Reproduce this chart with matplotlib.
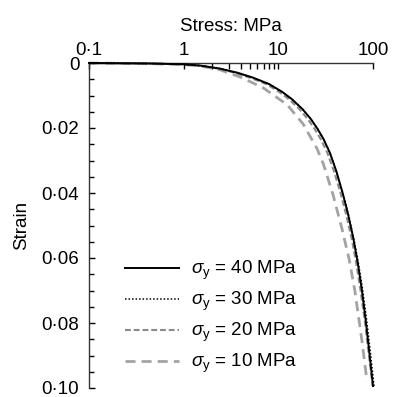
import matplotlib
matplotlib.use("Agg")
import matplotlib.pyplot as plt
from matplotlib.ticker import FixedLocator, NullFormatter

plt.rcParams['font.family'] = ['Liberation Sans', 'DejaVu Sans']
plt.rcParams['mathtext.fontset'] = 'custom'
plt.rcParams['mathtext.rm'] = 'Liberation Sans'
plt.rcParams['mathtext.it'] = 'Liberation Sans:italic'

# --- data (stress in MPa, strain) ---
strain_40 = [0, 0.00015, 0.0004, 0.0008, 0.0017, 0.0030, 0.0045, 0.0065, 0.0089,
             0.0112, 0.0142, 0.0172, 0.0203, 0.0234, 0.0276, 0.0333, 0.0402, 0.0470,
             0.0540, 0.0615, 0.0695, 0.0795, 0.0898, 0.0994]
stress_40 = [0.1, 0.44, 1.0, 1.5, 2.4, 3.7, 5.4, 8.0, 11, 14, 18, 22, 26, 30, 35,
             41, 48, 55, 62, 69, 76, 84, 92, 100]

strain_30 = strain_40
stress_30 = [0.1, 0.44, 1.0, 1.5, 2.4, 3.7, 5.4, 8.0, 11, 14, 18, 22, 26, 30, 35,
             41, 48.2, 55.4, 62.6, 70, 77.5, 86, 94.5, 102.5]

strain_20 = strain_40
stress_20 = [0.1, 0.44, 0.97, 1.45, 2.3, 3.45, 5.0, 7.5, 10.2, 13.0, 16.7, 20.4,
             24.2, 28.0, 32.9, 38.7, 45.6, 52.4, 59.5, 66.5, 73.5, 82, 90.5, 99]

strain_10 = [0, 0.0002, 0.0005, 0.0009, 0.0021, 0.0043, 0.0076, 0.0128, 0.0187,
             0.0263, 0.0312, 0.0405, 0.0511, 0.0602, 0.0703, 0.0856, 0.0979]
stress_10 = [0.1, 0.44, 0.98, 1.49, 2.42, 3.94, 6.89, 12.35, 18.2, 25.6, 30.0,
             37.8, 47.1, 55.8, 64.5, 76.5, 86.4]

labels = [r'$\sigma_{\rm y}$ = 40 MPa', r'$\sigma_{\rm y}$ = 30 MPa',
          r'$\sigma_{\rm y}$ = 20 MPa', r'$\sigma_{\rm y}$ = 10 MPa']

x_major = [0.1, 1, 10, 100]
x_major_labels = ['0·1', '1', '10', '100']
x_minor = [2, 3, 4, 5, 6, 7, 8, 9]
y_major = [0, 0.02, 0.04, 0.06, 0.08, 0.10]
y_major_labels = ['0', '0·02', '0·04', '0·06', '0·08', '0·10']

fig = plt.figure(figsize=(3.95, 3.97), dpi=100)
ax = fig.add_axes([89/395, 1-388/397, (373-89)/395, (388-63)/397])

fs = 13.5
ax.plot(stress_40, strain_40, color='black', lw=1.4, label=labels[0], clip_on=False, zorder=4)
ax.plot(stress_30, strain_30, color='black', lw=1.1, linestyle=(0, (1, 1.3)), label=labels[1], clip_on=False, zorder=3)
ax.plot(stress_20, strain_20, color='#8a8a8a', lw=1.5, linestyle=(0, (2.8, 1.4)), label=labels[2], clip_on=False, zorder=2)
ax.plot(stress_10, strain_10, color='#a3a3a3', lw=2.0, linestyle=(0, (3.6, 2.2)), label=labels[3], clip_on=False, zorder=1)

ax.set_xscale('log')
ax.set_xlim(0.1, 100)
ax.set_ylim(0.10, 0)

ax.xaxis.set_ticks_position('top')
ax.xaxis.set_label_position('top')
ax.set_xticks(x_major)
ax.set_xticklabels(x_major_labels, fontsize=fs)
ax.xaxis.set_minor_locator(FixedLocator(x_minor))
ax.xaxis.set_minor_formatter(NullFormatter())
ax.set_yticks(y_major)
ax.set_yticklabels(y_major_labels, fontsize=fs)
ax.yaxis.set_minor_locator(FixedLocator([i * 0.005 for i in range(21)]))

ax.tick_params(axis='x', which='major', direction='in', length=4, width=1, pad=3)
ax.tick_params(axis='x', which='minor', direction='in', length=4, width=1)
ax.tick_params(axis='y', which='major', direction='in', length=4, width=1, pad=7)
ax.tick_params(axis='y', which='minor', direction='in', length=3.5, width=1)

for s in ['right', 'bottom']:
    ax.spines[s].set_visible(False)
for s in ['top', 'left']:
    ax.spines[s].set_linewidth(1.0)
    ax.spines[s].set_color('#333333')

ax.set_xlabel('Stress: MPa', fontsize=fs, labelpad=8)
ax.set_ylabel('Strain', fontsize=fs, labelpad=8)

leg = ax.legend(loc='upper left', bbox_to_anchor=((125-89)/284, 1-(259-63)/325),
                frameon=False, fontsize=fs, handlelength=2.9, handletextpad=0.6,
                labelspacing=0.42, borderpad=0, borderaxespad=0)

fig.savefig('out.png', dpi=100)
